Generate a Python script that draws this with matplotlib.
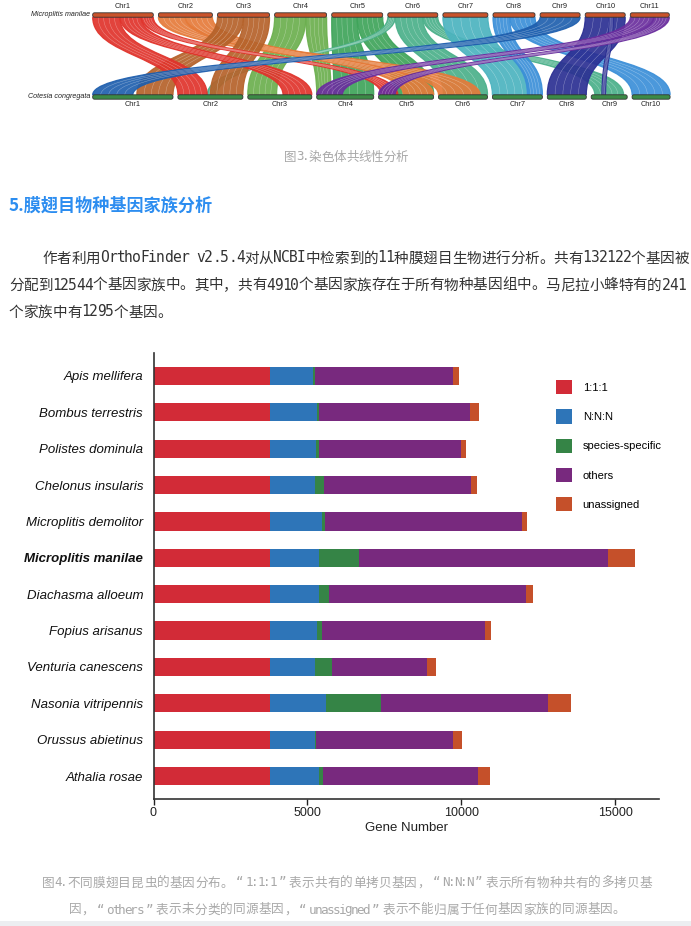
import numpy as np
import matplotlib
matplotlib.use("Agg")
import matplotlib.pyplot as plt

from matplotlib.path    import Path
from matplotlib.patches import PathPatch, FancyBboxPatch, Rectangle, Patch

#//==\\--//==\\--//==\\--//==\\--//==\\--//==\\--//==\\--//==\\--//==\\--//==\\#

# synteny (figure 3): chromosome lengths of both genomes (arbitrary units):
top_name   = "Microplitis manilae"
bot_name   = "Cotesia congregata"
top_len    = [60.6, 54, 52, 52, 51, 50, 45, 42, 40, 40, 39]
bot_len    = [80.3, 65, 64, 57, 55, 49, 50, 39, 36, 38]
top_colors = ['#E0332B', '#E57B3A', '#B5622A', '#6BAF4E', '#3FA45A', '#4BB08A',
              '#4CB3BF', '#3B8FD8', '#1F5FAE', '#2B2F93', '#6A2E9E']

# links: (top chr, from, to, bottom chr, from, to) -- fractions of the chromosome
links = [
    (4,  0.00, 0.60, 3,  0.00, 0.45),
    (4,  0.60, 1.00, 4,  0.00, 0.25),
    (5,  0.00, 0.50, 4,  0.30, 1.00),
    (5,  0.50, 1.00, 5,  0.30, 1.00),
    (6,  0.00, 0.15, 2,  0.45, 0.60),
    (6,  0.15, 0.70, 6,  0.10, 1.00),
    (6,  0.70, 1.00, 9,  0.10, 0.90),
    (7,  0.00, 1.00, 7,  0.00, 0.75),
    (2,  0.00, 0.50, 6,  0.00, 0.85),
    (2,  0.50, 1.00, 5,  0.45, 1.00),
    (3,  0.00, 0.50, 1,  0.55, 1.00),
    (3,  0.50, 1.00, 2,  0.50, 1.00),
    (1,  0.00, 0.45, 2,  0.00, 0.45),
    (1,  0.45, 0.80, 3,  0.55, 1.00),
    (1,  0.80, 1.00, 5,  0.05, 0.35),
    (8,  0.00, 0.40, 7,  0.70, 1.00),
    (8,  0.40, 1.00, 10, 0.00, 1.00),
    (10, 0.00, 1.00, 8,  0.00, 1.00),
    (10, 0.60, 0.70, 9,  0.30, 0.40),
    (11, 0.00, 0.60, 4,  0.00, 0.45),
    (11, 0.60, 1.00, 5,  0.00, 0.30),
    (9,  0.00, 1.00, 1,  0.00, 0.50),
]

# gene families (figure 4):
species    = ["Apis mellifera", "Bombus terrestris", "Polistes dominula",
              "Chelonus insularis", "Microplitis demolitor", "Microplitis manilae",
              "Diachasma alloeum", "Fopius arisanus", "Venturia canescens",
              "Nasonia vitripennis", "Orussus abietinus", "Athalia rosae"]
one2one    = [3780, 3780, 3780, 3780, 3780, 3780, 3780, 3780, 3780, 3780, 3780, 3780]
nnn        = [1400, 1540, 1497, 1482, 1711, 1611, 1611, 1540, 1482, 1826, 1482, 1583]
specific   = [  57,   71,   86,  272,   72, 1301,  329,  143,  544, 1787,   12,  143]
others     = [4490, 4905, 4618, 4791, 6406, 8094, 6378, 5305, 3074, 5420, 4476, 5034]
unassigned = [ 215,  286,  186,  200,  172,  858,  229,  200,  286,  772,  286,  400]

series_labels = ["1:1:1", "N:N:N", "species-specific", "others", "unassigned"]
series_colors = ['#D22B37', '#2E75B8', '#358446', '#78297E', '#C5502A']

# page texts:
caption3 = "图3.染色体共线性分析"
heading  = "5.膜翅目物种基因家族分析"
body     = ["作者利用OrthoFinder v2.5.4对从NCBI中检索到的11种膜翅目生物进行分析。共有132122个基因被",
            "分配到12544个基因家族中。其中，共有4910个基因家族存在于所有物种基因组中。马尼拉小蜂特有的241",
            "个家族中有1295个基因。"]
caption4 = ["图4.不同膜翅目昆虫的基因分布。“1:1:1”表示共有的单拷贝基因，“N:N:N”表示所有物种共有的多拷贝基",
            "因，“others”表示未分类的同源基因，“unassigned”表示不能归属于任何基因家族的同源基因。"]

#//==\\--//==\\--//==\\--//==\\--//==\\--//==\\--//==\\--//==\\--//==\\--//==\\#

MONO = ['DejaVu Sans Mono', 'Noto Sans CJK SC']

def is_wide(c):
    return ord(c) >= 0x2E80 or c in "“”"

def grid_text(ax, x, y, s, cw, hw, size, color, center=False):
    """draws a string on a fixed grid (like a SimSun bitmap font)"""
    widths = [cw if is_wide(c) else hw for c in s]
    if center:
        x = x - sum(widths)/2
    for c, w in zip(s, widths):
        if c != ' ':
            ax.text(x + w/2, y, c, ha='center', va='center', fontsize=size,
                    color=color, family=MONO)
        x += w

def chrom_layout(lengths, x0, gap):
    starts = []
    for L in lengths:
        starts.append(x0)
        x0 += L + gap
    return starts

def bezier_path(a0, a1, b0, b1, ya, yb):
    ym = (ya + yb)/2
    verts = [(a0, ya), (a0, ym), (b0, ym), (b0, yb),
             (b1, yb),
             (b1, ym), (a1, ym), (a1, ya),
             (a0, ya)]
    codes = [Path.MOVETO, Path.CURVE4, Path.CURVE4, Path.CURVE4,
             Path.LINETO,
             Path.CURVE4, Path.CURVE4, Path.CURVE4,
             Path.CLOSEPOLY]
    return Path(verts, codes)

def ribbon(ax, xa0, xa1, xb0, xb1, ya, yb, color, nlines=4):
    # solid band:
    ax.add_patch(PathPatch(bezier_path(xa0, xa1, xb0, xb1, ya, yb), facecolor=color,
                           edgecolor=color, lw=0.9, alpha=0.92))
    # a few light streaks inside the band:
    ym = (ya + yb)/2
    for f in np.linspace(0, 1, nlines + 2)[1:-1]:
        a = xa0 + f*(xa1 - xa0)
        b = xb0 + f*(xb1 - xb0)
        p = Path([(a, ya), (a, ym), (b, ym), (b, yb)],
                 [Path.MOVETO, Path.CURVE4, Path.CURVE4, Path.CURVE4])
        ax.add_patch(PathPatch(p, facecolor='none', edgecolor='white', lw=0.3, alpha=0.45))

def draw_synteny(ax):
    ytop, ybot, h = 15.0, 97.0, 4.4
    xs_top = chrom_layout(top_len, 92.7, 5.1)
    xs_bot = chrom_layout(bot_len, 92.7, 4.9)

    # ribbons:
    for (ct, t0, t1, cb, b0, b1) in links:
        xt, Lt = xs_top[ct-1], top_len[ct-1]
        xb, Lb = xs_bot[cb-1], bot_len[cb-1]
        ribbon(ax, xt + t0*Lt, xt + t1*Lt, xb + b0*Lb, xb + b1*Lb,
               ytop + h/2, ybot - h/2, top_colors[ct-1])

    # chromosomes:
    for i, (x, L) in enumerate(zip(xs_top, top_len)):
        ax.add_patch(FancyBboxPatch((x, ytop - h/2), L, h, boxstyle='round,pad=0,rounding_size=1.8',
                                    facecolor='#C9532B', edgecolor='#333333', lw=0.6))
        ax.text(x + L/2, ytop - 8, f"Chr{i+1}", ha='center', va='center', fontsize=5.3, color='#222222')
    for i, (x, L) in enumerate(zip(xs_bot, bot_len)):
        ax.add_patch(FancyBboxPatch((x, ybot - h/2), L, h, boxstyle='round,pad=0,rounding_size=1.8',
                                    facecolor='#3B8A46', edgecolor='#333333', lw=0.6))
        ax.text(x + L/2, ybot + 7, f"Chr{i+1}", ha='center', va='center', fontsize=5.3, color='#222222')

    ax.text(90, ytop - 0.5, top_name, ha='right', va='center', fontsize=5.1, style='italic', color='#222222')
    ax.text(90, ybot - 0.5, bot_name, ha='right', va='center', fontsize=5.1, style='italic', color='#222222')

def draw_bars(fig):
    W, H = 691, 926
    ax = fig.add_axes([153.5/W, 1 - 799/H, (659 - 153.5)/W, (799 - 353)/H])
    y = np.arange(len(species))
    left = np.zeros(len(species))
    for vals, col, lab in zip([one2one, nnn, specific, others, unassigned], series_colors, series_labels):
        ax.barh(y, vals, left=left, height=0.5, color=col, label=lab, linewidth=0)
        left += np.array(vals)

    ax.set_ylim(len(species) - 1 + 0.63, -0.63)
    ax.set_xlim(0, 16430)
    ax.set_xticks([0, 5000, 10000, 15000])
    ax.set_yticks(y)
    ax.set_yticklabels(species, fontsize=9.5, style='italic', color='#111111')
    ax.get_yticklabels()[species.index("Microplitis manilae")].set_fontweight('bold')
    ax.tick_params(axis='y', length=0, pad=7.5)
    ax.tick_params(axis='x', length=4, width=1, labelsize=9, colors='#222222', pad=2)
    ax.set_xlabel("Gene Number", fontsize=9.5, color='#222222', labelpad=2)
    for s in ['top', 'right']:
        ax.spines[s].set_visible(False)
    for s in ['left', 'bottom']:
        ax.spines[s].set_linewidth(1.2)
        ax.spines[s].set_color('#333333')

    handles = [Patch(facecolor=c, edgecolor='none') for c in series_colors]
    fig.legend(handles, series_labels, loc='upper left', bbox_to_anchor=(556/W, 1 - 380/H),
               frameon=False, fontsize=8, handlelength=1.4, handleheight=1.6,
               handletextpad=1.0, labelspacing=1.35, borderpad=0, borderaxespad=0)
    return ax

#//==\\--//==\\--//==\\--//==\\--//==\\--//==\\--//==\\--//==\\--//==\\--//==\\#
def do_main():
    plt.rcParams['font.family'] = ['Liberation Sans', 'DejaVu Sans']

    fig = plt.figure(figsize=(6.91, 9.26), dpi=100)
    page = fig.add_axes([0, 0, 1, 1])
    page.set_xlim(0, 691)
    page.set_ylim(926, 0)
    page.axis('off')

    # figure 3:
    draw_synteny(page)
    grid_text(page, 346, 157, caption3, 12.4, 6.2, 9, '#a8a8a8', center=True)

    # heading and body:
    page.text(9, 206, heading, ha='left', va='center', fontsize=12.3, fontweight='bold',
              color='#2C8DF0', family=['Noto Sans CJK SC'])
    grid_text(page, 42.3, 258, body[0], 14.52, 8.0, 10.5, '#333333')
    grid_text(page, 9,    285, body[1], 14.52, 8.0, 10.5, '#333333')
    grid_text(page, 9,    312, body[2], 14.52, 8.0, 10.5, '#333333')

    # figure 4:
    draw_bars(fig)
    grid_text(page, 347, 883, caption4[0], 12.8, 6.0, 9.1, '#a8a8a8', center=True)
    grid_text(page, 347, 910, caption4[1], 12.8, 6.0, 9.1, '#a8a8a8', center=True)

    page.add_patch(Rectangle((0, 921), 691, 5, facecolor='#eceef1', edgecolor='none'))

    fig.savefig("out.png", dpi=100)

#//==\\--//==\\--//==\\--//==\\--//==\\--//==\\--//==\\--//==\\--//==\\--//==\\#

if __name__ == "__main__":
    do_main()
